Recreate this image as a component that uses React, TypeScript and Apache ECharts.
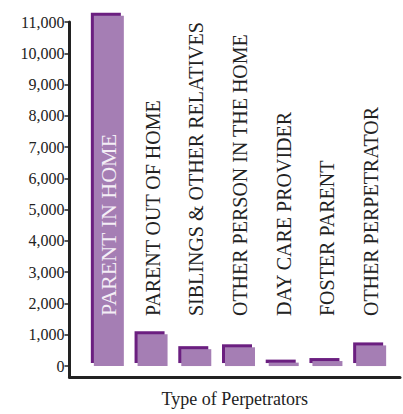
import React, { useEffect, useRef } from "react";
import * as echarts from "echarts";

const categories: string[] = [
  "PARENT IN HOME",
  "PARENT OUT OF HOME",
  "SIBLINGS & OTHER RELATIVES",
  "OTHER PERSON IN THE HOME",
  "DAY CARE PROVIDER",
  "FOSTER PARENT",
  "OTHER PERPETRATOR",
];
const counts: number[] = [11200, 1020, 540, 600, 110, 160, 660];
const yTicks: number[] = [0, 1000, 2000, 3000, 4000, 5000, 6000, 7000, 8000, 9000, 10000, 11000];
const xTitle = "Type of Perpetrators";

const FONT = "Liberation Serif";
const LIGHT = "#a57eb4";
const DARK = "#6b1f80";
const INK = "#222222";

export default function App() {
  const ref = useRef<HTMLDivElement>(null);
  useEffect(() => {
    if (!ref.current) return;
    const chart = echarts.init(ref.current, null, { renderer: "svg" });
    const pairs = categories.map((_, i) => [i, counts[i]]);
    const xMin = -0.9;
    const xMax = 6.66;
    const yMin = -350;
    const yMax = 11000;
    chart.setOption({
      animation: false,
      textStyle: { fontFamily: FONT },
      grid: [
        { left: 69.5, right: 3, top: 22, bottom: 37 },
        { left: 66.5, right: 6, top: 19, bottom: 40 },
      ],
      xAxis: [
        {
          type: "value",
          gridIndex: 0,
          min: xMin,
          max: xMax,
          axisLine: { show: true, onZero: false, lineStyle: { color: INK, width: 3 } },
          axisTick: { show: false },
          axisLabel: { show: false },
          splitLine: { show: false },
          name: xTitle,
          nameLocation: "middle",
          nameGap: 13,
          nameTextStyle: { fontFamily: FONT, fontSize: 18, color: INK },
        },
        {
          type: "value",
          gridIndex: 1,
          min: xMin,
          max: xMax,
          show: false,
        },
      ],
      yAxis: [
        {
          type: "value",
          gridIndex: 0,
          min: yMin,
          max: yMax,
          axisLine: { show: true, onZero: false, lineStyle: { color: INK, width: 3 } },
          axisTick: {
            show: true,
            length: 5,
            customValues: yTicks,
            lineStyle: { color: INK, width: 1.5 },
          },
          axisLabel: {
            show: true,
            customValues: yTicks,
            margin: 5,
            fontFamily: FONT,
            fontSize: 16,
            color: INK,
            formatter: (v: number) => v.toLocaleString("en-US"),
          },
          splitLine: { show: false },
        },
        {
          type: "value",
          gridIndex: 1,
          min: yMin,
          max: yMax,
          show: false,
        },
      ],
      series: [
        {
          type: "bar",
          xAxisIndex: 1,
          yAxisIndex: 1,
          barWidth: 30,
          clip: false,
          z: 1,
          itemStyle: { color: DARK },
          data: pairs,
        },
        {
          type: "bar",
          xAxisIndex: 0,
          yAxisIndex: 0,
          barWidth: 30,
          clip: false,
          z: 2,
          itemStyle: { color: LIGHT },
          data: pairs,
          label: {
            show: true,
            position: "insideBottom",
            distance: 50,
            rotate: 90,
            align: "left",
            verticalAlign: "middle",
            formatter: (p: any) =>
              (p.dataIndex === 0 ? "{inner|" : "{outer|") + categories[p.dataIndex] + "}",
            rich: {
              inner: { fontFamily: FONT, fontSize: 22, color: "#f4eef6" },
              outer: { fontFamily: FONT, fontSize: 20, color: INK },
            },
          },
        },
      ],
    });
    return () => chart.dispose();
  }, []);
  return (
    <div
      ref={ref}
      style={{ position: "fixed", left: 0, top: 0, width: 403, height: 414, background: "#ffffff" }}
    />
  );
}
